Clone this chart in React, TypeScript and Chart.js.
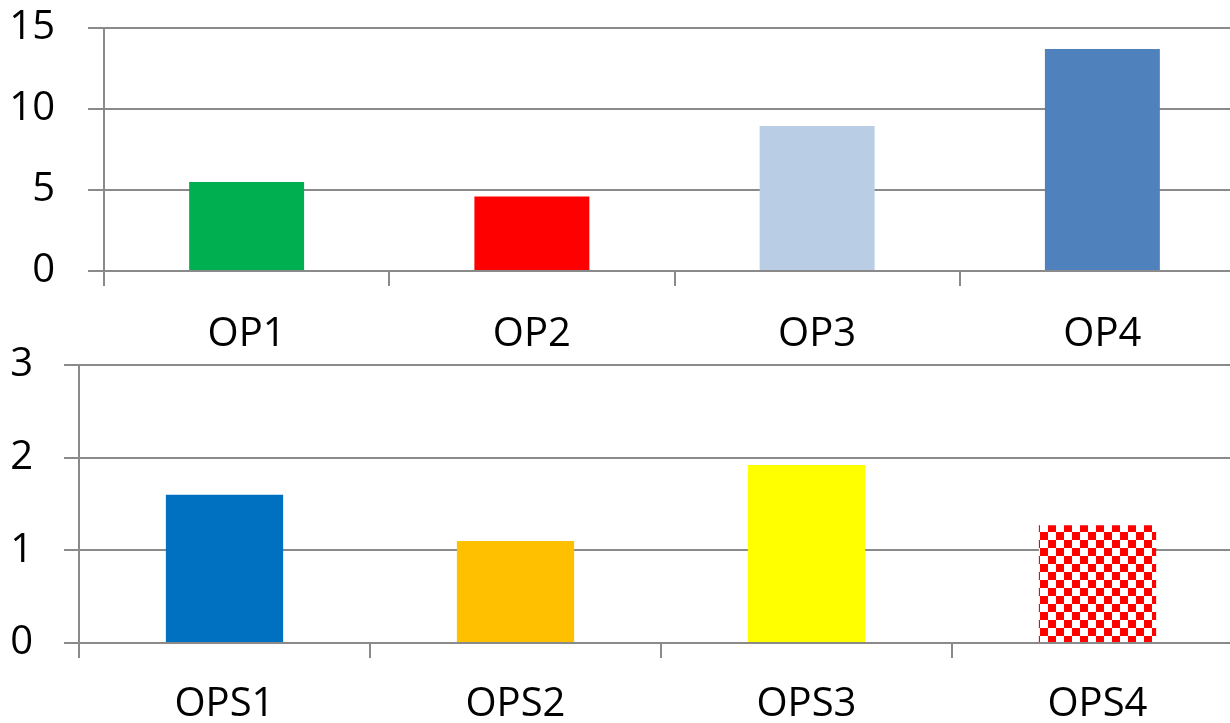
import React, { useEffect, useRef } from "react";
import { Chart, registerables } from "chart.js";

Chart.register(...registerables);

const topCategories = ["OP1", "OP2", "OP3", "OP4"];
const topValues = [5.5, 4.6, 8.95, 13.7];
const topColors = ["#00B050", "#FF0000", "#B9CDE5", "#4F81BD"];
const topMax = 15;
const topStep = 5;

const bottomCategories = ["OPS1", "OPS2", "OPS3", "OPS4"];
const bottomValues = [1.6, 1.1, 1.92, 1.27];
const bottomColors = ["#0070C0", "#FFC000", "#FFFF00", "checker"];
const bottomMax = 3;
const bottomStep = 1;

const FONT = "'Open Sans', sans-serif";
const GRID = "#8a8a8a";

function makeChecker(ctx: CanvasRenderingContext2D) {
  const c = document.createElement("canvas");
  c.width = 16;
  c.height = 16;
  const g = c.getContext("2d")!;
  g.fillStyle = "#ffffff";
  g.fillRect(0, 0, 16, 16);
  g.fillStyle = "#FF0000";
  g.fillRect(0, 0, 8, 8);
  g.fillRect(8, 8, 8, 8);
  return ctx.createPattern(c, "repeat");
}

type Cfg = {
  labels: string[];
  values: number[];
  colors: string[];
  max: number;
  step: number;
  yWidth: number;
  xHeight: number;
  padTop: number;
  padRight: number;
  yTickLen: number;
  yPad: number;
  xPad: number;
};

function BarChart({ cfg, width, height }: { cfg: Cfg; width: number; height: number }) {
  const ref = useRef<HTMLCanvasElement>(null);
  useEffect(() => {
    const canvas = ref.current!;
    const ctx = canvas.getContext("2d")!;
    const pattern = makeChecker(ctx);
    const bg = cfg.colors.map((c) => (c === "checker" ? pattern : c));
    const chart = new Chart(canvas, {
      type: "bar",
      data: {
        labels: cfg.labels,
        datasets: [
          {
            data: cfg.values,
            backgroundColor: bg as any,
            borderWidth: 0,
            categoryPercentage: 1,
            barPercentage: 0.403,
          },
        ],
      },
      options: {
        animation: false,
        responsive: false,
        maintainAspectRatio: false,
        layout: { padding: { top: cfg.padTop, right: cfg.padRight, left: 0, bottom: 0 } },
        plugins: { legend: { display: false }, tooltip: { enabled: false } },
        scales: {
          x: {
            afterFit: (s: any) => {
              s.height = cfg.xHeight;
              s.paddingLeft = 0;
              s.paddingRight = 0;
            },
            grid: {
              offset: true,
              drawOnChartArea: false,
              drawTicks: true,
              tickLength: 15,
              color: GRID,
              lineWidth: 2,
            },
            border: { display: false },
            ticks: {
              color: "#000",
              font: { family: FONT, size: 40 },
              padding: cfg.xPad,
              maxRotation: 0,
            },
          },
          y: {
            min: 0,
            max: cfg.max,
            afterFit: (s: any) => {
              s.width = cfg.yWidth;
              s.paddingTop = 0;
              s.paddingBottom = 0;
            },
            grid: {
              color: GRID,
              lineWidth: 2,
              tickLength: cfg.yTickLen,
              drawTicks: true,
            },
            border: { display: true, color: GRID, width: 2 },
            ticks: {
              stepSize: cfg.step,
              color: "#000",
              font: { family: FONT, size: 40 },
              padding: cfg.yPad,
            },
          },
        },
      },
    });
    return () => chart.destroy();
  }, []);
  return <canvas ref={ref} width={width} height={height} style={{ display: "block", width, height }} />;
}

const topCfg: Cfg = {
  labels: topCategories,
  values: topValues,
  colors: topColors,
  max: topMax,
  step: topStep,
  yWidth: 104,
  xHeight: 89,
  padTop: 28,
  padRight: 5,
  yTickLen: 16,
  yPad: 33,
  xPad: 25,
};

const bottomCfg: Cfg = {
  labels: bottomCategories,
  values: bottomValues,
  colors: bottomColors,
  max: bottomMax,
  step: bottomStep,
  yWidth: 79,
  xHeight: 80,
  padTop: 25,
  padRight: 7,
  yTickLen: 15,
  yPad: 31,
  xPad: 23,
};

export default function App() {
  return (
    <div
      style={{
        position: "fixed",
        left: 0,
        top: 0,
        width: 1230,
        height: 723,
        overflow: "hidden",
        background: "#fff",
      }}
    >
      <div style={{ position: "absolute", left: 0, top: 0 }}>
        <BarChart cfg={topCfg} width={1250} height={360} />
      </div>
      <div style={{ position: "absolute", left: 0, top: 340 }}>
        <BarChart cfg={bottomCfg} width={1250} height={383} />
      </div>
    </div>
  );
}
